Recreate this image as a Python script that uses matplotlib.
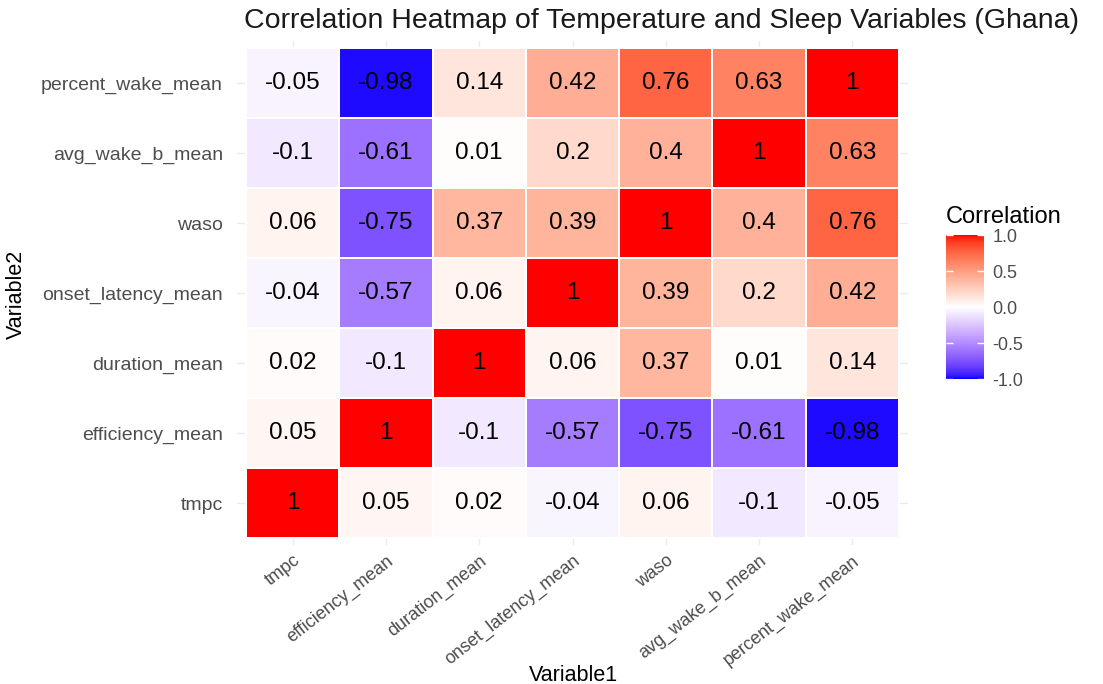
import numpy as np
import matplotlib
matplotlib.use("Agg")
import matplotlib.pyplot as plt
from matplotlib.colors import ListedColormap

plt.rcParams['font.family'] = ['Liberation Sans', 'DejaVu Sans']

variables = ["tmpc", "efficiency_mean", "duration_mean", "onset_latency_mean",
             "waso", "avg_wake_b_mean", "percent_wake_mean"]

# rows = Variable2 (bottom to top), columns = Variable1 (left to right)
corr_values = [
    [1, 0.05, 0.02, -0.04, 0.06, -0.1, -0.05],
    [0.05, 1, -0.1, -0.57, -0.75, -0.61, -0.98],
    [0.02, -0.1, 1, 0.06, 0.37, 0.01, 0.14],
    [-0.04, -0.57, 0.06, 1, 0.39, 0.2, 0.42],
    [0.06, -0.75, 0.37, 0.39, 1, 0.4, 0.76],
    [-0.1, -0.61, 0.01, 0.2, 0.4, 1, 0.63],
    [-0.05, -0.98, 0.14, 0.42, 0.76, 0.63, 1],
]

# ---- blue / white / red gradient interpolated in Lab (like scale_fill_gradient2)
def srgb_to_lab(rgb):
    rgb = np.asarray(rgb, dtype=float)
    lin = np.where(rgb <= 0.04045, rgb / 12.92, ((rgb + 0.055) / 1.055) ** 2.4)
    m = np.array([[0.4124564, 0.3575761, 0.1804375],
                  [0.2126729, 0.7151522, 0.0721750],
                  [0.0193339, 0.1191920, 0.9503041]])
    xyz = m @ lin / np.array([0.95047, 1.0, 1.08883])
    f = np.where(xyz > 0.008856, np.cbrt(xyz), 7.787 * xyz + 16 / 116)
    return np.array([116 * f[1] - 16, 500 * (f[0] - f[1]), 200 * (f[1] - f[2])])

def lab_to_srgb(lab):
    L, a, b = lab
    fy = (L + 16) / 116
    fx = fy + a / 500
    fz = fy - b / 200
    f = np.array([fx, fy, fz])
    xyz = np.where(f ** 3 > 0.008856, f ** 3, (f - 16 / 116) / 7.787)
    xyz = xyz * np.array([0.95047, 1.0, 1.08883])
    minv = np.array([[3.2404542, -1.5371385, -0.4985314],
                     [-0.9692660, 1.8760108, 0.0415560],
                     [0.0556434, -0.2040259, 1.0572252]])
    lin = np.clip(minv @ xyz, 0, 1)
    rgb = np.where(lin <= 0.0031308, 12.92 * lin, 1.055 * lin ** (1 / 2.4) - 0.055)
    return np.clip(rgb, 0, 1)

lab_low = srgb_to_lab([0, 0, 1])
lab_mid = srgb_to_lab([1, 1, 1])
lab_high = srgb_to_lab([1, 0, 0])
cols = []
for t in np.linspace(-1, 1, 256):
    if t < 0:
        lab = lab_mid + (lab_low - lab_mid) * (-t)
    else:
        lab = lab_mid + (lab_high - lab_mid) * t
    cols.append(lab_to_srgb(lab))
cmap = ListedColormap(cols)

data = np.array(corr_values, dtype=float)
n = len(variables)

fig = plt.figure(figsize=(11.03, 6.84), dpi=100)
ax = fig.add_axes([0.2146, 0.2032, 0.6089, 0.7368])

edges = np.arange(n + 1) - 0.5
mesh = ax.pcolormesh(edges, edges, data, cmap=cmap, vmin=-1, vmax=1,
                     edgecolors="white", linewidth=1.2)

for i in range(n):
    for j in range(n):
        ax.text(j, i, f"{data[i, j]:g}", ha="center", va="center",
                fontsize=17.5, color="black")

ax.set_xlim(-0.6, n - 0.4)
ax.set_ylim(-0.6, n - 0.4)
ax.set_xticks(range(n))
ax.set_yticks(range(n))
ax.set_xticklabels(variables, rotation=38, ha="right", va="top",
                   rotation_mode="anchor", fontsize=13)
ax.set_yticklabels(variables, fontsize=14)
ax.tick_params(length=0, labelcolor="#4D4D4D")
ax.tick_params(axis="y", pad=10)
ax.tick_params(axis="x", pad=5)
ax.grid(True, color="#EBEBEB", linewidth=1)
ax.set_axisbelow(True)
for s in ax.spines.values():
    s.set_visible(False)

fig.text(0.600, 0.969, "Correlation Heatmap of Temperature and Sleep Variables (Ghana)",
         ha="center", va="center", fontsize=20.5, color="#1A1A1A")
fig.text(0.520, 0.013, "Variable1", ha="center", va="center", fontsize=15.5)
fig.text(0.0145, 0.569, "Variable2", ha="center", va="center", fontsize=15.5,
         rotation=90)

# legend
cax = fig.add_axes([0.8577, 0.4459, 0.0345, 0.2105])
cb = fig.colorbar(mesh, cax=cax, ticks=[-1, -0.5, 0, 0.5, 1])
cb.outline.set_visible(False)
cb.ax.set_yticklabels(["-1.0", "-0.5", "0.0", "0.5", "1.0"])
cax.tick_params(axis="y", direction="in", left=True, right=True, length=5,
                width=1, color="white", labelsize=13, labelcolor="#4D4D4D", pad=6)
fig.text(0.8577, 0.683, "Correlation", ha="left", va="center", fontsize=17)

fig.savefig("out.png", dpi=100)
